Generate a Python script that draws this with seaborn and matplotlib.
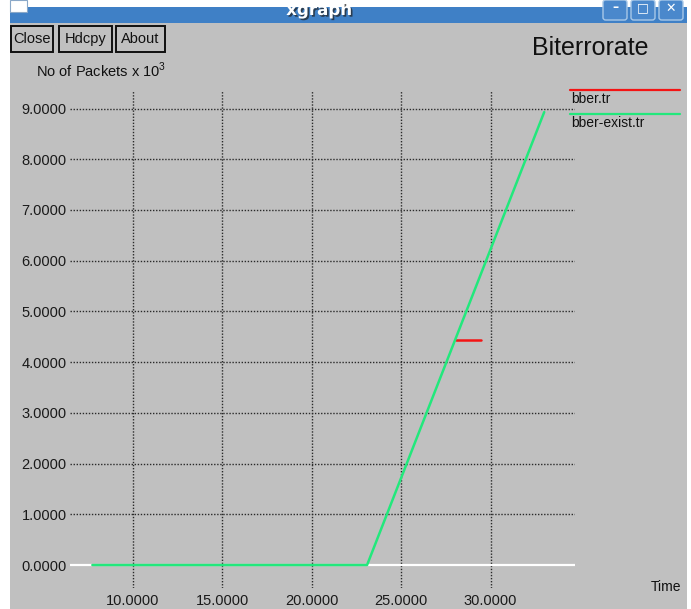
import matplotlib
matplotlib.use("Agg")
import matplotlib.pyplot as plt
import matplotlib.patheffects as pe
from matplotlib.patches import Rectangle, FancyBboxPatch
from matplotlib.lines import Line2D
import numpy as np
import pandas as pd
import seaborn as sns

# ---- data ----
series_names = ["bber.tr", "bber-exist.tr"]
bber_time = [28.05, 29.45]
bber_packets = [4.43, 4.43]
exist_time = [7.75, 23.1, 33.0]
exist_packets = [0.0, 0.0, 8.93]
x_ticks = [10, 15, 20, 25, 30]
y_ticks = [0, 1, 2, 3, 4, 5, 6, 7, 8, 9]
series_colors = ["#f41414", "#22e87c"]

W, H = 691, 609
BG = "#c0c0c0"
FONT = ["Liberation Sans", "DejaVu Sans"]

sns.set_theme(style="white")
plt.rcParams["font.family"] = FONT
plt.rcParams["mathtext.fontset"] = "custom"
plt.rcParams["mathtext.rm"] = "Liberation Sans"


def fx(px):
    return px / W


def fy(py):
    return 1 - py / H


fig = plt.figure(figsize=(W / 100, H / 100), dpi=100)
fig.patch.set_facecolor("white")

# window body
fig.add_artist(Rectangle((fx(10), fy(H)), fx(687) - fx(10), fy(22) - fy(H),
                         transform=fig.transFigure, facecolor=BG, edgecolor="none", zorder=0))
# title bar
fig.add_artist(Rectangle((fx(10), fy(23)), fx(687) - fx(10), fy(7) - fy(23),
                         transform=fig.transFigure, facecolor="#3f80c6", edgecolor="none", zorder=1))
fig.add_artist(Rectangle((fx(10), fy(12)), fx(27) - fx(10), fy(0) - fy(12),
                         transform=fig.transFigure, facecolor="white", edgecolor="#8aa8c8",
                         linewidth=0.8, zorder=2))
fig.text(fx(319), fy(15), "xgraph", color="white", fontsize=12, fontweight="bold",
         family=["DejaVu Sans"], ha="center", va="baseline", zorder=3,
         path_effects=[pe.withSimplePatchShadow(offset=(1.2, -1.2), shadow_rgbFace="#202020", alpha=0.7)])
# window control buttons
for x0, glyph in [(603, "\u2013"), (631, "\u25a1"), (659, "\u2715")]:
    fig.add_artist(FancyBboxPatch((fx(x0), fy(20)), fx(24), fy(0) - fy(20),
                                  boxstyle="round,pad=0,rounding_size=0.004",
                                  transform=fig.transFigure, facecolor="#4a88cc",
                                  edgecolor="#a8c8e8", linewidth=1.0, zorder=2))
    fig.text(fx(x0 + 12), fy(8), glyph, color="white", fontsize=9, fontweight="bold",
             family=["DejaVu Sans"], ha="center", va="center", zorder=3)

# command buttons
for label, x0, x1 in [("Close", 11, 53), ("Hdcpy", 59, 112), ("About", 116, 165)]:
    fig.add_artist(Rectangle((fx(x0), fy(52)), fx(x1) - fx(x0), fy(26) - fy(52),
                             transform=fig.transFigure, facecolor=BG, edgecolor="#101010",
                             linewidth=1.4, zorder=2))
    fig.text(fx((x0 + x1) / 2), fy(39), label, fontsize=10.5, color="#111111",
             ha="center", va="center", zorder=3)

# titles
fig.text(fx(590), fy(48), "Biterrorate", fontsize=18, color="#111111", ha="center", va="center")
fig.text(fx(36), fy(70), r"No of Packets x 10$^{\mathregular{3}}$", fontsize=10.5,
         color="#111111", ha="left", va="center")
fig.text(fx(681), fy(587), "Time", fontsize=10, color="#111111", ha="right", va="center")

# plotting area
ax = fig.add_axes([fx(70), fy(588), fx(575) - fx(70), fy(90) - fy(588)])
ax.set_facecolor(BG)
ax.patch.set_alpha(0)

df = pd.concat([
    pd.DataFrame({"Time": bber_time, "Packets": bber_packets, "trace": series_names[0]}),
    pd.DataFrame({"Time": exist_time, "Packets": exist_packets, "trace": series_names[1]}),
])

ax.set_xlim(6.5, 34.72)
ax.set_ylim(-0.453, 9.365)

grid_style = dict(color="#2a2a2a", linewidth=1.0, linestyle=(0, (1, 1.2)), zorder=1)
for xv in x_ticks:
    ax.axvline(xv, **grid_style)
for yv in y_ticks[1:]:
    ax.axhline(yv, **grid_style)
ax.axhline(0, color="white", linewidth=1.6, zorder=1.5)

sns.lineplot(data=df, x="Time", y="Packets", hue="trace", palette=series_colors,
             hue_order=series_names, linewidth=1.8, legend=False, ax=ax, zorder=3,
             estimator=None, sort=False)

ax.set_xticks(x_ticks)
ax.set_xticklabels([f"{v:.4f}" for v in x_ticks])
ax.set_yticks(y_ticks)
ax.set_yticklabels([f"{v:.4f}" for v in y_ticks])
ax.tick_params(axis="both", length=0, labelsize=10.5, labelcolor="#1a1a1a")
ax.tick_params(axis="x", pad=4.5)
ax.tick_params(axis="y", pad=2.5)
ax.set_xlabel("")
ax.set_ylabel("")
for s in ax.spines.values():
    s.set_visible(False)

# legend on the right
for i, (name, col) in enumerate(zip(series_names, series_colors)):
    ly = 90 + i * 24
    fig.add_artist(Line2D([fx(570), fx(680)], [fy(ly), fy(ly)], transform=fig.transFigure,
                          color=col, linewidth=1.6))
    fig.text(fx(571), fy(ly + 9), name, fontsize=10, color="#111111", ha="left", va="center")

fig.savefig("out.png", dpi=100, facecolor=fig.get_facecolor())
